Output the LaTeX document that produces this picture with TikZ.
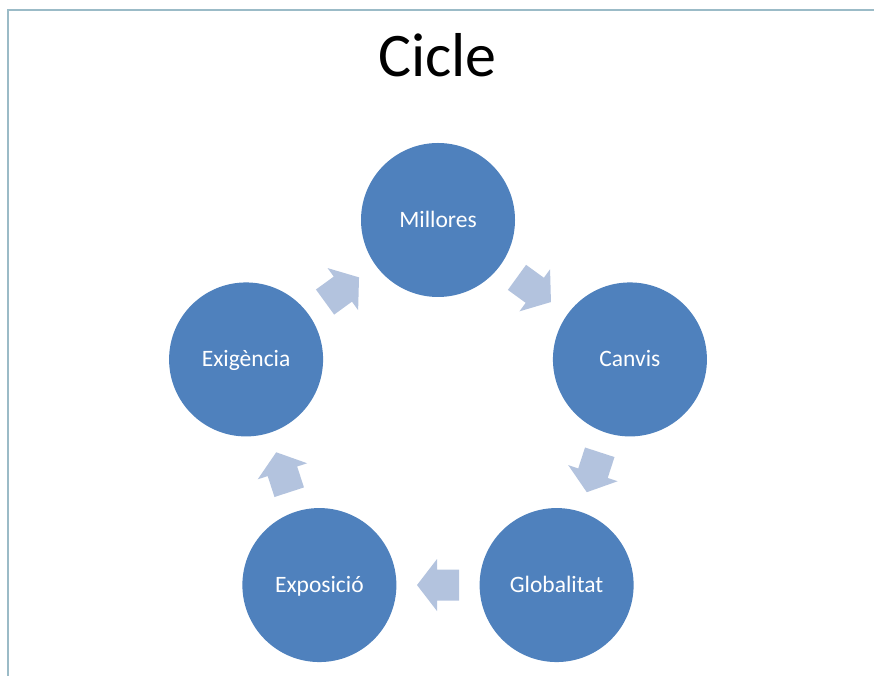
\documentclass[tikz,border=0pt]{standalone}
\usepackage{fontspec}
\setmainfont{Carlito}
\usetikzlibrary{calc}
\definecolor{circblue}{RGB}{79,129,189}
\definecolor{arrblue}{RGB}{179,195,222}
\definecolor{framecol}{RGB}{155,187,199}
\begin{document}
\begin{tikzpicture}[x=1pt,y=1pt,
  stage/.style={circle, fill=circblue, minimum size=154pt, inner sep=0pt,
    text=white, text height=15pt, text depth=0pt,
    font=\fontsize{23.5}{28}\selectfont},
  blockarrow/.style={fill=arrblue},
  frameline/.style={draw=framecol, line width=1.5pt}]
\useasboundingbox (0,0) rectangle (874,676);
\draw[frameline] (874,666) -- (8,666) -- (8,0);
\node[anchor=base, inner sep=0pt, font=\fontsize{62}{70}\selectfont] (title) at (437.5,599) {Cicle};
\coordinate (ctr) at (438,254.2);
\node[stage] (m) at ($(ctr)+(90:201.8)$) {Millores};
\node[stage] (c) at ($(ctr)+(18:201.8)$) {Canvis};
\node[stage] (g) at ($(ctr)+(-54:201.8)$) {Globalitat};
\node[stage] (e) at ($(ctr)+(-126:201.8)$) {Exposició};
\node[stage] (x) at ($(ctr)+(162:201.8)$) {Exigència};
\foreach \a/\b/\ang in {m/c/-36, c/g/-108, g/e/180, e/x/108, x/m/36}
  \fill[blockarrow, shift={($(\a)!0.5!(\b)$)}, rotate=\ang]
    (-21,-15.5) -- (1,-15.5) -- (1,-26) -- (21,0) -- (1,26) -- (1,15.5) -- (-21,15.5) -- cycle;
\end{tikzpicture}
\end{document}
